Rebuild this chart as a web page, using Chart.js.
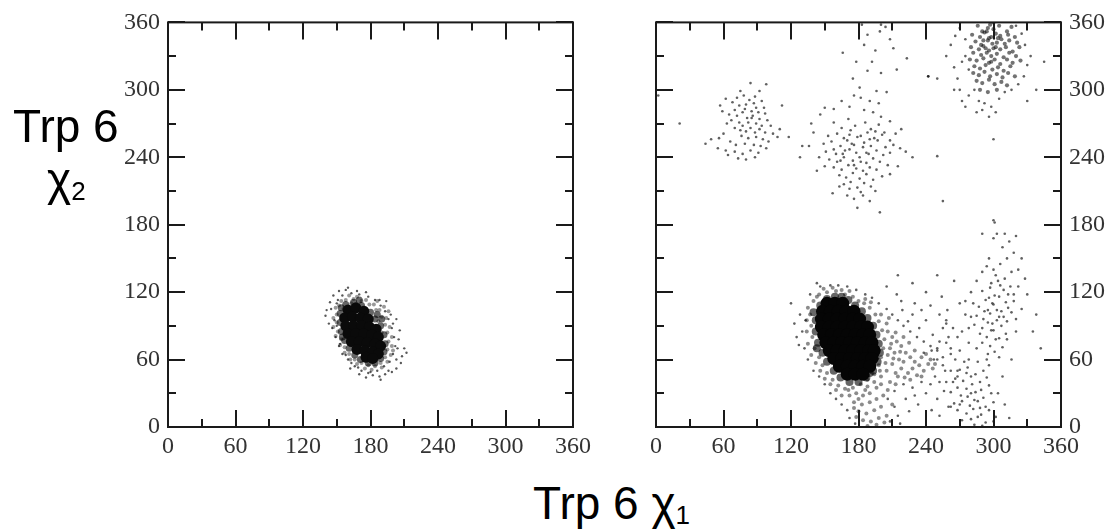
<!DOCTYPE html>
<html>
<head>
<meta charset="utf-8">
<script src="https://cdn.jsdelivr.net/npm/chart.js@4"></script>
<style>
  body{margin:0;background:#fff;width:1112px;height:531px;position:relative;overflow:hidden}
  canvas{position:absolute;top:0}
  .lbl{position:absolute;font-family:'Liberation Sans',Arial,sans-serif;font-size:46px;line-height:46px;color:#000;white-space:nowrap}
  .sub{font-size:26px;vertical-align:-5px}
</style>
</head>
<body>
<canvas id="leftChart" width="610" height="470" style="left:0"></canvas>
<canvas id="rightChart" width="492" height="470" style="left:620px"></canvas>
<div class="lbl" style="left:13px;top:103px">Trp 6</div>
<div class="lbl" style="left:47px;top:156px">χ<span class="sub">2</span></div>
<div class="lbl" style="left:533px;top:480px">Trp 6 χ<span class="sub">1</span></div>
<script>
// axis ticks (degrees)
const tickLabels = [0, 60, 120, 180, 240, 300, 360];
const tickMarks = [0, 30, 60, 90, 120, 150, 180, 210, 240, 270, 300, 330, 360];

// left panel: one compact blob
const leftCore = [[160,104],[167,106],[174,103],[157,97],[164,98],[171,97],[178,96],
  [158,90],[165,90],[172,90],[179,89],[185,87],[160,83],[167,83],[174,83],[181,82],[187,80],
  [163,76],[170,76],[177,75],[184,74],[189,72],[168,69],[175,68],[182,67],[187,65],[176,62],[182,61]];
const leftRing = [[158,109],[165,111],[172,108],[180,102],[184,96],[189,90],[192,82],[193,74],
  [192,67],[189,61],[184,57],[178,57],[171,60],[166,64],[161,70],[157,77],[154,85],[153,93],
  [153,101],[154,106],[170,113],[190,96],[186,100],[155,80]];
const leftHalo = [[152,108],[158,113],[165,114],[172,112],[179,109],[185,104],[190,98],[193,91],
  [195,84],[196,76],[195,69],[193,62],[189,57],[184,54],[178,55],[172,57],[166,60],[161,65],
  [157,71],[154,78],[151,85],[150,93],[150,100],[156,105],[187,94],[190,84],[190,70],[182,58],
  [163,110],[175,106],[149,106],[154,112],[161,117],[168,116],[176,113],[183,109],[188,104],
  [194,97],[197,89],[199,80],[199,72],[198,64],[195,58],[190,53],[181,51],[175,52],[168,56],
  [162,60],[157,66],[153,73],[149,81],[147,89],[147,97],[186,112],[196,103],[192,107],[200,68]];
const leftDots = [[147,117],[158,122],[140,99],[200,92],[208,63],[203,52],[193,47],[182,46],
  [169,53],[163,57],[188,113],[150,110],[145,105],[148,95],[146,88],[149,80],[152,72],[155,65],
  [160,60],[166,54],[172,50],[178,48],[186,50],[192,54],[197,58],[200,65],[202,72],[201,80],
  [199,88],[196,96],[193,103],[189,108],[184,113],[178,116],[170,118],[163,119],[155,117],
  [151,113],[205,78],[198,100],[143,92],[160,124],[168,121],[176,120],[194,112],[204,70],
  [207,57],[196,50],[188,45],[176,44],[170,47],[162,52],[158,64],[153,74],[150,90],[144,111],
  [152,121],[141,104],[206,86],[210,70],[203,60],[199,49],[189,42],[180,49],[203,96],[212,66]];

// right panel: main blob near (170, 78)
const rightCore = [[152,110],[159,110],[166,110],
  [148,103],[155,103],[162,103],[169,103],[176,103],
  [147,96],[154,96],[161,96],[168,96],[175,96],[181,96],
  [147,89],[154,89],[161,89],[168,89],[175,89],[182,89],[188,89],
  [149,82],[156,82],[163,82],[170,82],[177,82],[184,82],[190,82],
  [151,75],[158,75],[165,75],[172,75],[179,75],[186,75],[192,75],
  [154,68],[161,68],[168,68],[175,68],[182,68],[189,68],[194,68],
  [158,61],[165,61],[172,61],[179,61],[186,61],[192,61],
  [163,54],[170,54],[177,54],[184,54],[190,54],[170,47],[177,47],[184,47]];
const rightRing = [[159,116],[146,108],[142,95],[142,85],[144,75],[148,66],[152,58],[158,50],
  [164,44],[172,40],[180,40],[187,44],[193,50],[197,58],[199,66],[198,74],[196,82],[193,90],
  [188,97],[183,103],[177,108],[171,113],[165,116],[152,114],[140,102],[143,70],[195,62],[190,48]];
const rightHalo = [[140,112],[145,118],[152,120],[160,121],[168,118],[175,116],[180,112],
  [137,100],[138,90],[139,80],[141,70],[145,62],[148,55],[152,48],[157,42],[162,37],[168,34],
  [175,35],[182,38],[188,42],[194,47],[198,55],[200,62],[202,70],[203,78],[201,86],[198,94],
  [195,100],[190,106],[185,110],[206,85],[210,80],[214,76],[208,70],[212,66],[218,72],[222,66],
  [216,60],[220,58],[226,62],[230,58],[234,55],[228,52],[238,50],[224,48],[242,56],[210,56],
  [205,50],[215,45],[208,40],[200,45],[218,52],[232,46],[246,52],[178,30],[184,28],[190,30],
  [176,22],[183,20],[190,22],[196,25],[180,14],[187,12],[194,15],[200,18],[184,6],[191,5],
  [198,8],[205,10],[202,28],[196,35],[172,28],[188,36],[205,92],[209,74],[213,84],[206,64],
  [211,61],[217,67],[204,57],[199,50],[194,40],[186,33],[180,25],[171,33],[165,28],[160,33],
  [155,38],[150,43],[146,50],[142,57],[138,64],[135,74],[134,85],[134,95],[135,106],[143,116],
  [149,123],[157,124],[165,122],[172,121],[186,114],[191,111],[200,100],[207,97],[220,80],
  [225,75],[230,68],[236,62],[240,65],[244,60],[248,56],[236,45],[226,42],[213,38],[206,33],
  [200,38],[182,44],[176,17],[196,2],[188,1],[178,9],[203,4],[210,20],[213,48],[221,44]];
const blobFringe = [[128,100],[133,95],[130,85],[125,80],[132,70],[135,60],[140,50],[145,45],
  [150,38],[155,30],[160,25],[165,20],[170,15],[172,8],[177,3],[146,125],[155,126],[162,126],
  [170,125],[178,122],[186,118],[192,115],[198,110],[205,105],[210,100],[215,95],[220,90],
  [226,85],[232,80],[238,76],[244,72],[250,68],[255,62],[248,45],[252,40],[244,38],[236,40],
  [228,35],[220,38],[212,32],[206,25],[212,18],[208,5],[215,10],[222,25],[230,28],[120,110],
  [205,125],[214,118],[228,100],[240,95],[255,88],[260,80],[258,95],[262,70],[266,60],[268,50],
  [264,40],[256,32],[250,25],[245,15],[262,18],[270,20],[240,120],[228,128],[215,135],[250,135],
  [270,110],[265,130],[275,100],[272,85],[278,75],[123,92],[127,73],[137,118],[143,128],
  [219,104],[224,94],[234,88],[246,82],[252,76],[238,66],[257,50],[240,30],[233,20],[225,14],
  [217,3],[252,10],[247,60],[230,110],[218,112],[236,104],[259,104],[254,116],[244,108]];

// small cluster near (80, 278)
const clusterA = [[75,299],[92,299],[98,305],[62,292],[68,289],[72,293],[57,286],[59,281],
  [78,295],[83,291],[87,288],[89,284],[74,286],[79,283],[85,281],[91,280],[96,284],[70,282],
  [65,278],[72,277],[77,280],[81,275],[86,277],[92,274],[97,279],[67,273],[74,271],[77,268],
  [82,271],[85,275],[89,270],[94,268],[99,273],[70,266],[75,264],[80,263],[84,266],[88,262],
  [92,265],[97,262],[63,270],[102,268],[76,259],[82,257],[89,258],[95,256],[104,261],[60,261],
  [56,257],[49,256],[66,254],[71,251],[79,252],[87,251],[93,250],[100,254],[108,258],[55,248],
  [62,246],[70,245],[77,243],[84,246],[91,244],[98,248],[73,239],[80,238],[88,240],[64,242],
  [44,252],[110,265],[118,258],[21,270],[84,306],[112,286],[2,295],[80,287],[88,294],[94,290]];

// cluster near (178, 255) with plume upward
const clusterB = [[158,271],[165,266],[171,274],[177,268],[186,271],[191,265],[198,269],[203,262],
  [153,259],[161,261],[167,257],[173,264],[182,259],[188,262],[194,257],[201,260],[208,255],[213,261],
  [149,252],[156,254],[164,250],[170,255],[176,251],[179,258],[185,253],[191,250],[197,255],
  [204,249],[211,251],[217,248],[151,245],[158,247],[166,243],[172,247],[178,244],[184,249],
  [189,243],[196,246],[202,242],[208,244],[154,238],[161,236],[167,240],[175,237],[181,240],
  [187,235],[193,239],[199,236],[206,233],[158,231],[165,229],[171,233],[178,230],[184,228],
  [190,231],[196,229],[163,224],[169,222],[175,226],[181,221],[187,225],[193,220],[201,223],
  [167,216],[173,218],[179,213],[185,217],[191,214],[170,206],[182,209],[174,252],[168,246],
  [182,236],[190,256],[160,243],[176,233],[195,263],[187,244],[172,260],[164,237],
  [157,208],[163,214],[179,195],[199,191],[190,201],[184,206],[172,212],[176,203],[195,210],
  [140,262],[136,250],[145,240],[143,228],[138,270],[146,278],[150,284],[158,283],[165,290],
  [172,285],[185,282],[193,280],[200,276],[208,272],[218,265],[222,245],[228,240],[215,232],
  [208,225],[150,232],[130,250],[128,240],
  [166,333],[188,349],[199,352],[204,356],[211,337],[188,317],[181,302],[196,299],[205,298],
  [214,318],[223,328],[242,312],[178,325],[195,335],[185,340],[200,315],[190,290],[182,293],
  [198,288],[175,310],[208,345],[192,325],[183,358],[200,358],[176,295]];

// dense cluster at top right near (297, 333)
const clusterCore = [[286,357],[290,352],[297,358],[300,354],[305,357],[312,352],[316,356],
  [281,349],[288,347],[292,351],[296,346],[302,350],[307,345],[313,349],[319,347],
  [284,343],[289,340],[295,344],[299,341],[304,346],[310,341],[314,344],[321,342],
  [280,338],[287,336],[291,339],[296,335],[300,337],[306,336],[311,338],[317,334],[323,338],
  [282,333],[289,331],[294,333],[298,330],[303,332],[309,329],[314,333],[320,330],
  [279,327],[285,326],[291,328],[296,324],[301,327],[306,323],[312,327],[317,324],[324,326],
  [283,321],[288,319],[293,322],[299,318],[304,320],[309,317],[315,321],
  [282,315],[287,313],[292,316],[297,312],[303,314],[308,311],[313,315],[319,312],
  [285,308],[290,306],[296,309],[301,305],[307,307],[312,304],[288,300],[295,298],[303,300],
  [294,352],[298,347],[303,342],[293,337],[298,325],[306,348],[300,360],[295,355],[302,338],[291,344]];
const clusterC = [[262,340],[258,330],[265,320],[268,310],[270,300],[272,290],[275,285],[278,295],
  [283,300],[287,290],[292,288],[298,285],[305,292],[310,298],[316,300],[322,305],[327,312],
  [330,322],[333,330],[328,340],[325,350],[320,357],[270,355],[266,348],[275,345],[290,282],
  [285,280],[302,280],[296,276],[265,300],[250,310],[338,300],[330,290],[345,325],[275,330],
  [278,318],[272,325],[300,256],[255,201],[300,184],[290,172],[303,172],[250,241],[242,312]];

// bottom right cluster near (300, 95)
const clusterD = [[290,121],[297,124],[301,117],[309,122],[293,113],[299,110],[305,116],[311,111],
  [287,107],[295,104],[300,109],[307,103],[313,106],[318,112],[285,99],[291,96],[297,101],
  [303,95],[309,98],[316,102],[283,91],[290,88],[295,93],[300,86],[307,90],[312,94],[288,83],
  [294,80],[298,86],[305,79],[311,83],[290,75],[297,72],[302,78],[308,71],[295,65],[301,67],
  [282,110],[280,98],[278,88],[320,96],[318,118],[315,125],[322,125],[298,128],[304,130],
  [310,132],[316,138],[322,140],[300,140],[306,145],[312,150],[318,155],[296,150],[308,160],
  [314,165],[300,168],[310,172],[320,170],[301,182],[325,150],[328,132],[330,118],[325,105],
  [285,130],[290,138],[280,120],[275,112],[294,60],[305,62],[285,70],[312,78],[320,85],
  [335,85],[342,70],[338,100],[316,60],[252,100],[258,92],[264,88],[268,80],[258,75],[250,70],
  [262,65],[270,68],[274,58],[255,55],[262,50],[268,45],[276,48],[250,60],[245,68],
  [303,104],[296,115],[306,126],[292,103],[299,92],[305,98],[302,135],[294,143],[313,118]];

// lowest cluster near (282, 27)
const clusterE = [[270,51],[277,53],[284,47],[291,50],[266,43],[273,41],[280,45],[288,40],[294,44],
  [268,35],[276,34],[281,38],[289,33],[296,37],[262,31],[271,28],[277,27],[284,31],[291,26],
  [298,30],[265,21],[272,23],[279,19],[286,23],[293,18],[300,22],[268,15],[276,12],[282,16],
  [289,11],[296,15],[302,9],[272,6],[280,7],[286,9],[293,4],[300,5],[283,2],[290,1],[258,40],
  [260,18],[304,30],[310,20],[314,8],[308,45],[296,55],[286,58],[278,60],[283,24],[288,17],[280,30]];

const toXY = arr => arr.map(p => ({x: p[0], y: p[1]}));

const frameTicks = {
  id: 'frameTicks',
  afterDatasetsDraw(chart) {
    const {ctx, chartArea: a, scales: {x, y}} = chart;
    ctx.save();
    ctx.strokeStyle = '#1a1a1a';
    ctx.lineWidth = 2;
    ctx.strokeRect(a.left, a.top, a.right - a.left, a.bottom - a.top);
    ctx.beginPath();
    tickMarks.forEach(v => {
      const len = v % 60 === 0 ? 17 : 8;
      const px = Math.round(x.getPixelForValue(v));
      const py = Math.round(y.getPixelForValue(v));
      ctx.moveTo(px, a.bottom); ctx.lineTo(px, a.bottom - len);
      ctx.moveTo(px, a.top); ctx.lineTo(px, a.top + len);
      ctx.moveTo(a.left, py); ctx.lineTo(a.left + len, py);
      ctx.moveTo(a.right, py); ctx.lineTo(a.right - len, py);
    });
    ctx.stroke();
    ctx.restore();
  }
};

function dataset(points, radius, color) {
  return {data: toXY(points), pointRadius: radius, pointHoverRadius: radius,
    backgroundColor: color, borderWidth: 0};
}

function makeChart(id, datasets, yPos, pad, yWidth) {
  const tickFont = {family: "'Liberation Serif', 'Times New Roman', serif", size: 24};
  return new Chart(document.getElementById(id), {
    type: 'scatter',
    data: {datasets},
    plugins: [frameTicks],
    options: {
      responsive: false,
      animation: false,
      devicePixelRatio: 1,
      layout: {padding: pad},
      plugins: {legend: {display: false}, tooltip: {enabled: false}},
      scales: {
        x: {
          type: 'linear', min: 0, max: 360,
          grid: {display: false, drawTicks: false},
          border: {display: false},
          afterBuildTicks: s => { s.ticks = tickLabels.map(v => ({value: v})); },
          afterFit: s => { s.height = 43; },
          ticks: {color: '#333', font: tickFont, padding: 5, maxRotation: 0}
        },
        y: {
          type: 'linear', min: 0, max: 360, position: yPos,
          grid: {display: false, drawTicks: false},
          border: {display: false},
          afterBuildTicks: s => { s.ticks = tickLabels.map(v => ({value: v})); },
          afterFit: s => { s.width = yWidth; },
          ticks: {color: '#333', font: tickFont, padding: 8}
        }
      }
    }
  });
}

makeChart('leftChart', [
  dataset(leftCore, 5.5, '#0a0a0a'),
  dataset(leftRing, 3.5, 'rgba(0,0,0,0.6)'),
  dataset(leftHalo, 2, 'rgba(0,0,0,0.4)'),
  dataset(leftDots, 1.2, 'rgba(0,0,0,0.65)')
], 'left', {top: 21, right: 37, left: 0, bottom: 0}, 168);

makeChart('rightChart', [
  dataset(rightCore, 6.5, '#050505'),
  dataset(rightRing, 4, 'rgba(0,0,0,0.6)'),
  dataset(rightHalo, 2, 'rgba(0,0,0,0.45)'),
  dataset(clusterCore, 2.1, 'rgba(0,0,0,0.55)'),
  dataset(blobFringe.concat(clusterA, clusterB, clusterC, clusterD, clusterE), 1.3, 'rgba(0,0,0,0.62)')
], 'right', {top: 21, right: 0, left: 36, bottom: 0}, 51);
</script>
</body>
</html>
